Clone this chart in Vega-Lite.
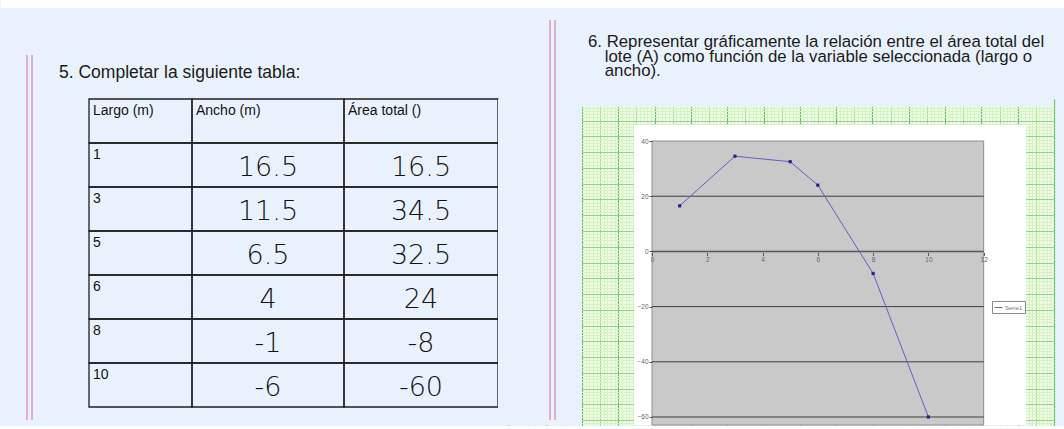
{
  "$schema": "https://vega.github.io/schema/vega-lite/v6.json",
  "background": "#e9f2fc",
  "padding": {"left": 0, "top": 0, "right": 0, "bottom": 0},
  "config": {
    "view": {"stroke": null},
    "font": "Liberation Sans",
    "title": {"fontWeight": "normal", "color": "#1a1a1a"}
  },
  "datasets": {
    "tabla": [
      {"largo": 1, "ancho": 16.5, "area": 16.5, "serie": "Serie1"},
      {"largo": 3, "ancho": 11.5, "area": 34.5, "serie": "Serie1"},
      {"largo": 5, "ancho": 6.5, "area": 32.5, "serie": "Serie1"},
      {"largo": 6, "ancho": 4, "area": 24, "serie": "Serie1"},
      {"largo": 8, "ancho": -1, "area": -8, "serie": "Serie1"},
      {"largo": 10, "ancho": -6, "area": -60, "serie": "Serie1"}
    ]
  },
  "bounds": "flush",
  "spacing": 0,
  "hconcat": [
    {
      "width": 103, "height": 308,
      "data": {"name": "tabla"},
      "title": {"text": "5. Completar la siguiente tabla:", "anchor": "start", "frame": "group", "dx": -30, "offset": 17, "fontSize": 17.5, "font": "Liberation Sans"},
      "layer": [
        {"mark": {"type": "rect", "fillOpacity": 0, "stroke": "#1e1e1e", "strokeWidth": 1.3},
         "encoding": {"y": {"field": "largo", "type": "ordinal", "scale": {"domain": [0, 1, 3, 5, 6, 8, 10], "paddingInner": 0, "paddingOuter": 0}, "axis": null}}},
        {"data": {"values": [{"encabezado": "Largo (m)"}]},
         "mark": {"type": "rect", "fillOpacity": 0, "stroke": "#1e1e1e", "strokeWidth": 1.3},
         "encoding": {"y": {"datum": 0, "type": "ordinal", "scale": {"domain": [0, 1, 3, 5, 6, 8, 10], "paddingInner": 0, "paddingOuter": 0}}}},
        {"data": {"values": [{"encabezado": "Largo (m)"}]},
         "mark": {"type": "text", "align": "left", "baseline": "top", "dx": -47.5, "dy": 5, "fontSize": 14, "color": "#111"},
         "encoding": {"y": {"datum": 0, "type": "ordinal", "bandPosition": 0, "scale": {"domain": [0, 1, 3, 5, 6, 8, 10], "paddingInner": 0, "paddingOuter": 0}}, "text": {"field": "encabezado"}}},
        {"mark": {"type": "text", "align": "left", "baseline": "top", "dx": -47.5, "dy": 5, "fontSize": 14, "color": "#111"},
         "encoding": {"y": {"field": "largo", "type": "ordinal", "bandPosition": 0, "scale": {"domain": [0, 1, 3, 5, 6, 8, 10], "paddingInner": 0, "paddingOuter": 0}}, "text": {"field": "largo", "type": "nominal"}}}
      ]
    },
    {
      "width": 152, "height": 308,
      "data": {"name": "tabla"},
      "layer": [
        {"mark": {"type": "rect", "fillOpacity": 0, "stroke": "#1e1e1e", "strokeWidth": 1.3},
         "encoding": {"y": {"field": "largo", "type": "ordinal", "scale": {"domain": [0, 1, 3, 5, 6, 8, 10], "paddingInner": 0, "paddingOuter": 0}, "axis": null}}},
        {"data": {"values": [{"encabezado": "Ancho (m)"}]},
         "mark": {"type": "rect", "fillOpacity": 0, "stroke": "#1e1e1e", "strokeWidth": 1.3},
         "encoding": {"y": {"datum": 0, "type": "ordinal", "scale": {"domain": [0, 1, 3, 5, 6, 8, 10], "paddingInner": 0, "paddingOuter": 0}}}},
        {"data": {"values": [{"encabezado": "Ancho (m)"}]},
         "mark": {"type": "text", "align": "left", "baseline": "top", "dx": -72, "dy": 5, "fontSize": 14, "color": "#111"},
         "encoding": {"y": {"datum": 0, "type": "ordinal", "bandPosition": 0, "scale": {"domain": [0, 1, 3, 5, 6, 8, 10], "paddingInner": 0, "paddingOuter": 0}}, "text": {"field": "encabezado"}}},
        {"mark": {"type": "text", "align": "center", "baseline": "middle", "dy": 3, "fontSize": 27, "font": "DejaVu Sans", "fontWeight": 200, "color": "#111"},
         "encoding": {"y": {"field": "largo", "type": "ordinal", "scale": {"domain": [0, 1, 3, 5, 6, 8, 10], "paddingInner": 0, "paddingOuter": 0}}, "text": {"field": "ancho", "type": "nominal"}}}
      ]
    },
    {
      "width": 154, "height": 308,
      "data": {"name": "tabla"},
      "layer": [
        {"mark": {"type": "rect", "fillOpacity": 0, "stroke": "#1e1e1e", "strokeWidth": 1.3},
         "encoding": {"y": {"field": "largo", "type": "ordinal", "scale": {"domain": [0, 1, 3, 5, 6, 8, 10], "paddingInner": 0, "paddingOuter": 0}, "axis": null}}},
        {"data": {"values": [{"encabezado": "Área total ()"}]},
         "mark": {"type": "rect", "fillOpacity": 0, "stroke": "#1e1e1e", "strokeWidth": 1.3},
         "encoding": {"y": {"datum": 0, "type": "ordinal", "scale": {"domain": [0, 1, 3, 5, 6, 8, 10], "paddingInner": 0, "paddingOuter": 0}}}},
        {"data": {"values": [{"encabezado": "Área total ()"}]},
         "mark": {"type": "text", "align": "left", "baseline": "top", "dx": -73, "dy": 5, "fontSize": 14, "color": "#111"},
         "encoding": {"y": {"datum": 0, "type": "ordinal", "bandPosition": 0, "scale": {"domain": [0, 1, 3, 5, 6, 8, 10], "paddingInner": 0, "paddingOuter": 0}}, "text": {"field": "encabezado"}}},
        {"mark": {"type": "text", "align": "center", "baseline": "middle", "dy": 3, "fontSize": 27, "font": "DejaVu Sans", "fontWeight": 200, "color": "#111"},
         "encoding": {"y": {"field": "largo", "type": "ordinal", "scale": {"domain": [0, 1, 3, 5, 6, 8, 10], "paddingInner": 0, "paddingOuter": 0}}, "text": {"field": "area", "type": "nominal"}}}
      ]
    },
    {
      "width": 556, "height": 326,
      "data": {"name": "tabla"},
      "view": {"fill": "#effbe6", "stroke": null},
      "title": {
        "text": ["6. Representar gráficamente la relación entre el área total del", "\u200b\u2002\u2002lote (A) como función de la variable seleccionada (largo o", "\u200b\u2002\u2002ancho)."],
        "anchor": "start", "frame": "group", "dx": 90, "offset": -80, "fontSize": 16.8, "lineHeight": 14.6, "font": "Liberation Sans"
      },
      "resolve": {"scale": {"x": "independent", "y": "independent"}, "axis": {"x": "independent", "y": "independent"}},
      "layer": [
        {"mark": {"type": "point", "opacity": 0},
         "encoding": {
           "x": {"datum": 0, "type": "quantitative", "scale": {"domain": [-2.313, 13], "nice": false, "zero": false}, "axis": {"orient": "top", "grid": true, "gridColor": "#d6f1c2", "gridWidth": 1, "tickCount": 153, "labels": false, "ticks": false, "domain": false, "title": null}},
           "y": {"datum": 0, "type": "quantitative", "scale": {"domain": [-0.3, 20.37], "nice": false, "zero": false}, "axis": {"orient": "right", "grid": true, "gridColor": "#d6f1c2", "gridWidth": 1, "tickCount": 104, "labels": false, "ticks": false, "domain": false, "title": null}}
         }},
        {"mark": {"type": "point", "opacity": 0},
         "encoding": {
           "x": {"datum": 0, "type": "quantitative", "scale": {"domain": [-2.313, 13], "nice": false, "zero": false}, "axis": {"orient": "top", "grid": true, "gridColor": "#a3dd9c", "gridWidth": 1, "tickCount": 31, "labels": false, "ticks": false, "domain": false, "title": null}},
           "y": {"datum": 0, "type": "quantitative", "scale": {"domain": [-0.3, 20.37], "nice": false, "zero": false}, "axis": {"orient": "right", "grid": true, "gridColor": "#8fd48a", "gridWidth": 1, "tickCount": 21, "labels": false, "ticks": false, "domain": false, "title": null}}
         }},
        {"mark": {"type": "point", "opacity": 0},
         "encoding": {
           "x": {"datum": 0, "type": "quantitative", "scale": {"domain": [-2.313, 13], "nice": false, "zero": false}, "axis": {"orient": "top", "grid": true, "gridColor": "#5cc25c", "gridWidth": 1.2, "tickCount": 15, "labels": false, "ticks": false, "domain": false, "title": null}}
         }},
        {
          "layer": [
            {"data": {"values": [{}]},
             "mark": {"type": "rect", "color": "#ffffff"},
             "encoding": {
               "x": {"datum": -23.56, "type": "quantitative", "scale": {"domain": [-5.572, 14.544], "nice": false, "zero": false}},
               "x2": {"datum": 14.95},
               "y": {"datum": 88.19, "type": "quantitative", "scale": {"domain": [-62.9, 55.22], "nice": false, "zero": false}},
               "y2": {"datum": 91.09}
             }},
            {"data": {"values": [{}]},
             "mark": {"type": "rect", "color": "#e9f2fc"},
             "encoding": {
               "x": {"datum": -5.572, "type": "quantitative", "scale": {"domain": [-5.572, 14.544], "nice": false, "zero": false}},
               "x2": {"datum": -2.533},
               "y": {"datum": -62.9, "type": "quantitative", "scale": {"domain": [-62.9, 55.22], "nice": false, "zero": false}},
               "y2": {"datum": 55.22}
             }},
            {"data": {"values": [{}]},
             "mark": {"type": "rect", "color": "#e9f2fc"},
             "encoding": {
               "x": {"datum": -2.54, "type": "quantitative", "scale": {"domain": [-5.572, 14.544], "nice": false, "zero": false}},
               "x2": {"datum": 14.544},
               "y": {"datum": 52.32, "type": "quantitative", "scale": {"domain": [-62.9, 55.22], "nice": false, "zero": false}},
               "y2": {"datum": 55.22}
             }},
            {"data": {"values": [{}]},
             "mark": {"type": "rect", "color": "#ffffff"},
             "encoding": {
               "x": {"datum": -0.651, "type": "quantitative", "scale": {"domain": [-5.572, 14.544], "nice": false, "zero": false}},
               "x2": {"datum": 13.531},
               "y": {"datum": -62.9, "type": "quantitative", "scale": {"domain": [-62.9, 55.22], "nice": false, "zero": false}},
               "y2": {"datum": 45.8}
             }},
            {"data": {"values": [{}]},
             "mark": {"type": "rect", "color": "#c9c9c9", "stroke": "#8c8c8c", "strokeWidth": 1},
             "encoding": {
               "x": {"datum": 0, "type": "quantitative", "scale": {"domain": [-5.572, 14.544], "nice": false, "zero": false}},
               "x2": {"datum": 12},
               "y": {"datum": -62.9, "type": "quantitative", "scale": {"domain": [-62.9, 55.22], "nice": false, "zero": false}},
               "y2": {"datum": 40}
             }},
            {"data": {"values": [{}]},
             "mark": {"type": "rule", "color": "#3f3f3f", "strokeWidth": 1},
             "encoding": {
               "x": {"datum": 0, "type": "quantitative", "scale": {"domain": [-5.572, 14.544], "nice": false, "zero": false}},
               "x2": {"datum": 12},
               "y": {"datum": 20, "type": "quantitative", "scale": {"domain": [-62.9, 55.22], "nice": false, "zero": false}}
             }},
            {"data": {"values": [{}]},
             "mark": {"type": "rule", "color": "#555555", "strokeWidth": 1.5},
             "encoding": {
               "x": {"datum": 0, "type": "quantitative", "scale": {"domain": [-5.572, 14.544], "nice": false, "zero": false}},
               "x2": {"datum": 12},
               "y": {"datum": 0, "type": "quantitative", "scale": {"domain": [-62.9, 55.22], "nice": false, "zero": false}}
             }},
            {"data": {"values": [{}]},
             "mark": {"type": "rule", "color": "#3f3f3f", "strokeWidth": 1},
             "encoding": {
               "x": {"datum": 0, "type": "quantitative", "scale": {"domain": [-5.572, 14.544], "nice": false, "zero": false}},
               "x2": {"datum": 12},
               "y": {"datum": -20, "type": "quantitative", "scale": {"domain": [-62.9, 55.22], "nice": false, "zero": false}}
             }},
            {"data": {"values": [{}]},
             "mark": {"type": "rule", "color": "#3f3f3f", "strokeWidth": 1},
             "encoding": {
               "x": {"datum": 0, "type": "quantitative", "scale": {"domain": [-5.572, 14.544], "nice": false, "zero": false}},
               "x2": {"datum": 12},
               "y": {"datum": -40, "type": "quantitative", "scale": {"domain": [-62.9, 55.22], "nice": false, "zero": false}}
             }},
            {"data": {"values": [{}]},
             "mark": {"type": "rule", "color": "#3f3f3f", "strokeWidth": 1},
             "encoding": {
               "x": {"datum": 0, "type": "quantitative", "scale": {"domain": [-5.572, 14.544], "nice": false, "zero": false}},
               "x2": {"datum": 12},
               "y": {"datum": -60, "type": "quantitative", "scale": {"domain": [-62.9, 55.22], "nice": false, "zero": false}}
             }},
            {"data": {"values": [{}]},
             "mark": {"type": "rule", "color": "#d89db1", "strokeWidth": 1.5},
             "encoding": {
               "x": {"datum": -3.69, "type": "quantitative", "scale": {"domain": [-5.572, 14.544], "nice": false, "zero": false}},
               "y": {"datum": 83.84, "type": "quantitative", "scale": {"domain": [-62.9, 55.22], "nice": false, "zero": false}},
               "y2": {"datum": -61.09}
             }},
            {"data": {"values": [{}]},
             "mark": {"type": "rule", "color": "#d89db1", "strokeWidth": 1.5},
             "encoding": {
               "x": {"datum": -3.509, "type": "quantitative", "scale": {"domain": [-5.572, 14.544], "nice": false, "zero": false}},
               "y": {"datum": 83.84, "type": "quantitative", "scale": {"domain": [-62.9, 55.22], "nice": false, "zero": false}},
               "y2": {"datum": -61.09}
             }},
            {"data": {"values": [{}]},
             "mark": {"type": "rule", "color": "#d89db1", "strokeWidth": 1.5},
             "encoding": {
               "x": {"datum": -22.612, "type": "quantitative", "scale": {"domain": [-5.572, 14.544], "nice": false, "zero": false}},
               "y": {"datum": 71.16, "type": "quantitative", "scale": {"domain": [-62.9, 55.22], "nice": false, "zero": false}},
               "y2": {"datum": -61.09}
             }},
            {"data": {"values": [{}]},
             "mark": {"type": "rule", "color": "#d89db1", "strokeWidth": 1.5},
             "encoding": {
               "x": {"datum": -22.431, "type": "quantitative", "scale": {"domain": [-5.572, 14.544], "nice": false, "zero": false}},
               "y": {"datum": 71.16, "type": "quantitative", "scale": {"domain": [-62.9, 55.22], "nice": false, "zero": false}},
               "y2": {"datum": -61.09}
             }},
            {"mark": {"type": "line", "strokeWidth": 1},
             "encoding": {
               "x": {"field": "largo", "type": "quantitative", "scale": {"domain": [-5.572, 14.544], "nice": false, "zero": false},
                     "axis": {"orient": "bottom", "offset": -172.6, "values": [0, 2, 4, 6, 8, 10, 12], "grid": false, "domain": false, "tickSize": 3, "tickColor": "#555", "labelFontSize": 6.5, "labelColor": "#6b5d78", "labelPadding": 1, "title": null, "zindex": 1}},
               "y": {"field": "area", "type": "quantitative", "scale": {"domain": [-62.9, 55.22], "nice": false, "zero": false},
                     "axis": {"orient": "left", "offset": -154, "values": [-60, -40, -20, 0, 20, 40], "grid": false, "domain": false, "tickSize": 3, "tickColor": "#555", "labelFontSize": 6.5, "labelColor": "#6b5d78", "labelPadding": 1, "title": null, "zindex": 1}},
               "color": {"field": "serie", "type": "nominal", "scale": {"range": ["#6060c4"]},
                         "legend": {"orient": "none", "legendX": 903, "legendY": 202, "title": null, "padding": 2, "fillColor": "#ffffff", "strokeColor": "#8a8a8a", "symbolType": "stroke", "symbolSize": 60, "symbolStrokeWidth": 1, "labelFontSize": 6, "labelColor": "#777777", "labelOffset": 2, "cornerRadius": 0}}
             }},
            {"mark": {"type": "point", "shape": "square", "filled": true, "size": 10, "color": "#22228a", "opacity": 1},
             "encoding": {
               "x": {"field": "largo", "type": "quantitative", "scale": {"domain": [-5.572, 14.544], "nice": false, "zero": false}},
               "y": {"field": "area", "type": "quantitative", "scale": {"domain": [-62.9, 55.22], "nice": false, "zero": false}}
             }}
          ]
        }
      ]
    }
  ]
}
